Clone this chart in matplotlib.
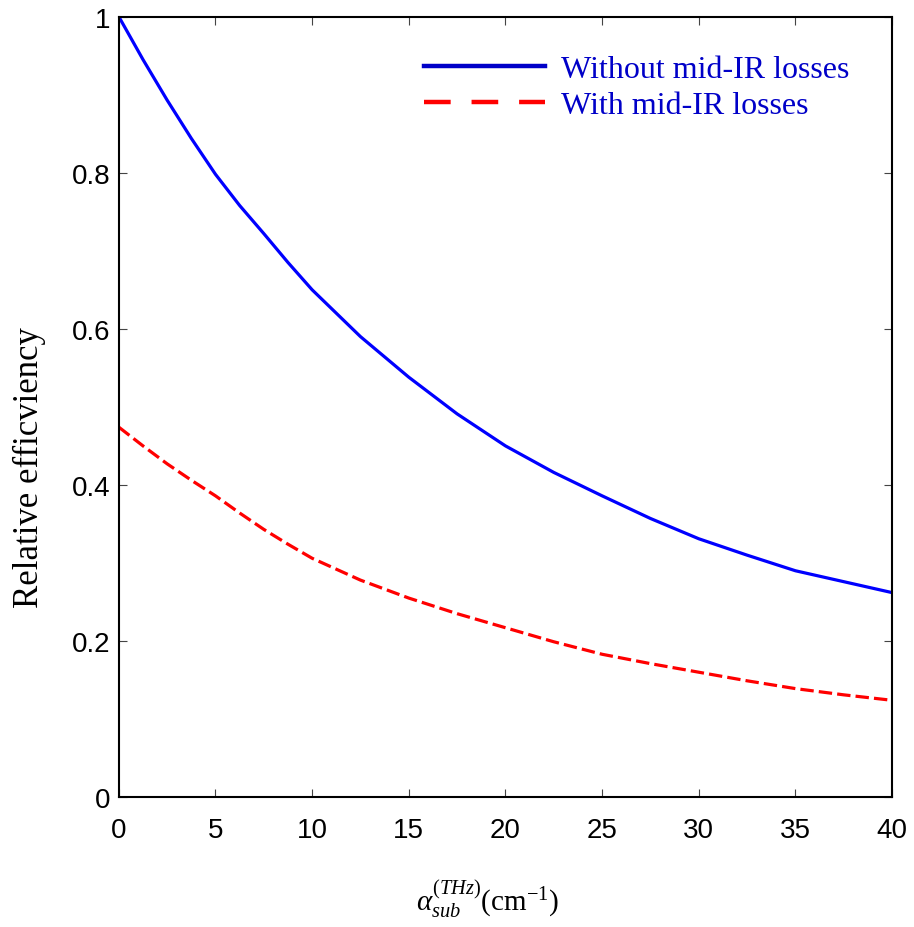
import matplotlib.pyplot as plt
from matplotlib.lines import Line2D

# absorption coefficient of the substrate (cm^-1)
alpha = [0, 1.25, 2.5, 3.75, 5, 6.25, 7.5, 8.75, 10, 12.5, 15, 17.5, 20, 22.5,
         25, 27.5, 30, 32.5, 35, 37.5, 40]
# relative efficiency
eff_no_loss = [1.0, 0.945, 0.893, 0.844, 0.798, 0.758, 0.722, 0.685, 0.650, 0.590,
               0.538, 0.491, 0.450, 0.416, 0.386, 0.357, 0.331, 0.310, 0.290, 0.276, 0.262]
eff_loss = [0.474, 0.450, 0.427, 0.406, 0.386, 0.364, 0.343, 0.324, 0.306, 0.278,
            0.255, 0.235, 0.217, 0.199, 0.183, 0.171, 0.160, 0.149, 0.139, 0.131, 0.124]

xticks = [0, 5, 10, 15, 20, 25, 30, 35, 40]
yticks = [0, 0.2, 0.4, 0.6, 0.8, 1.0]
ytick_labels = ['0', '0.2', '0.4', '0.6', '0.8', '1']

plt.rcParams['mathtext.fontset'] = 'custom'
plt.rcParams['mathtext.rm'] = 'Liberation Serif'
plt.rcParams['mathtext.it'] = 'Liberation Serif:italic'

fig = plt.figure(figsize=(9.14, 9.28), dpi=100)
ax = fig.add_axes([0.130, 0.140, 0.846, 0.841])

ax.plot(alpha, eff_no_loss, color='#0000ff', lw=2.3, solid_joinstyle='round')
ax.plot(alpha, eff_loss, color='#ff0000', lw=2.3, dashes=(4.2, 1.6))

ax.set_xlim(0, 40)
ax.set_ylim(0, 1)
ax.set_xticks(xticks)
ax.set_yticks(yticks)
ax.set_yticklabels(ytick_labels)

for s in ax.spines.values():
    s.set_linewidth(1.5)
ax.tick_params(direction='in', length=6, width=0.8, color='#444444',
               top=True, right=True, labelsize=20)
ax.tick_params(axis='x', pad=14)
ax.tick_params(axis='y', pad=6)
for lab in ax.get_xticklabels() + ax.get_yticklabels():
    lab.set_family('Liberation Sans')

ax.set_ylabel('Relative efficviency', family='Liberation Serif', fontsize=25)
ax.yaxis.set_label_coords(-0.094, 0.424)
ax.set_xlabel(r'$\alpha_{sub}^{(THz)}$(cm$^{\mathregular{-1}}$)', family='Liberation Serif',
              fontsize=21, labelpad=25)
ax.xaxis.label.set_x(0.477)

handles = [Line2D([], [], color='#0000c8', lw=3.2),
           Line2D([], [], color='#ff0000', lw=3.2, dashes=(6.0, 4.7))]
leg = ax.legend(handles, ['Without mid-IR losses', 'With mid-IR losses'],
                loc='upper right', bbox_to_anchor=(0.945, 0.951), frameon=False,
                handlelength=3.8, handletextpad=0.5, labelspacing=0.2,
                borderpad=0, borderaxespad=0,
                prop={'family': 'Liberation Serif', 'size': 23},
                labelcolor='#0000c8')
leg._legend_box.align = 'left'

fig.savefig('out.png', dpi=100)
